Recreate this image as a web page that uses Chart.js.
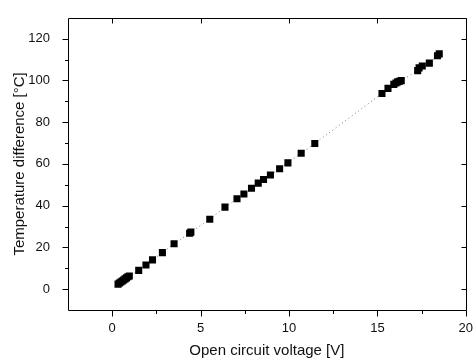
<!DOCTYPE html>
<html>
<head>
<meta charset="utf-8">
<script src="https://cdn.jsdelivr.net/npm/chart.js@4/dist/chart.umd.min.js"></script>
<style>
  html, body { margin: 0; padding: 0; background: #fff; }
  #chart { display: block; }
</style>
</head>
<body>
<canvas id="chart" width="476" height="361"></canvas>
<script>
'use strict';

/* ─── 데이터 ─── */
var voltages = [0.33, 0.41, 0.49, 0.57, 0.65, 0.73, 0.81, 0.89, 0.97,
  1.50, 1.91, 2.28, 2.84, 3.50, 4.38, 4.45, 5.52, 6.38, 7.06, 7.45,
  7.88, 8.26, 8.56, 8.95, 9.47, 9.94, 10.69, 11.46, 15.26, 15.60,
  15.93, 16.05, 16.15, 16.25, 16.35, 17.28, 17.36, 17.54, 17.94, 18.40, 18.50];
var tempDiffs = [2.4, 2.9, 3.4, 3.9, 4.4, 4.9, 5.4, 5.9, 6.3,
  9.0, 11.6, 14.0, 17.5, 21.7, 26.8, 27.3, 33.5, 39.3, 43.3, 45.6,
  48.3, 50.8, 52.5, 54.7, 57.7, 60.5, 65.1, 69.8, 93.7, 96.2,
  98.1, 98.8, 99.3, 99.6, 99.9, 104.7, 106.0, 106.9, 108.3, 111.8, 112.7];

var xMajorTicks = [0, 5, 10, 15, 20];
var xMinorTicks = [2.5, 7.5, 12.5, 17.5];
var yMajorTicks = [0, 20, 40, 60, 80, 100, 120];
var yMinorTicks = [10, 30, 50, 70, 90, 110];

var xTitle = 'Open circuit voltage [V]';
var yTitle = 'Temperature difference [°C]';

var points = [];
for (var i = 0; i < voltages.length; i++) {
  points.push({ x: voltages[i], y: tempDiffs[i] });
}

/* ─── 프레임 + 눈금 (좌/하: 바깥, 상/우: 안쪽) ─── */
var frameTicks = {
  id: 'frameTicks',
  afterDraw: function (chart) {
    var ctx = chart.ctx;
    var a = chart.chartArea;
    var xs = chart.scales.x, ys = chart.scales.y;
    var L = Math.round(a.left) + 0.5, R = Math.round(a.right) + 0.5;
    var T = Math.round(a.top) + 0.5, B = Math.round(a.bottom) + 0.5;
    ctx.save();
    ctx.strokeStyle = '#000';
    ctx.lineWidth = 1;
    ctx.beginPath();
    ctx.rect(L, T, R - L, B - T);
    var k, p;
    for (k = 0; k < xMajorTicks.length; k++) {
      p = Math.round(xs.getPixelForValue(xMajorTicks[k])) + 0.5;
      ctx.moveTo(p, B); ctx.lineTo(p, B + 6);
      ctx.moveTo(p, T); ctx.lineTo(p, T + 5);
    }
    for (k = 0; k < xMinorTicks.length; k++) {
      p = Math.round(xs.getPixelForValue(xMinorTicks[k])) + 0.5;
      ctx.moveTo(p, B); ctx.lineTo(p, B + 3.5);
    }
    for (k = 0; k < yMajorTicks.length; k++) {
      p = Math.round(ys.getPixelForValue(yMajorTicks[k])) + 0.5;
      ctx.moveTo(L - 6, p); ctx.lineTo(L, p);
      ctx.moveTo(R - 5, p); ctx.lineTo(R, p);
    }
    for (k = 0; k < yMinorTicks.length; k++) {
      p = Math.round(ys.getPixelForValue(yMinorTicks[k])) + 0.5;
      ctx.moveTo(L - 3.5, p); ctx.lineTo(L, p);
    }
    ctx.stroke();
    ctx.restore();
  }
};

var tickFont = { family: '"Liberation Sans", Arial, sans-serif', size: 13 };
var titleFont = { family: '"Liberation Sans", Arial, sans-serif', size: 15 };

new Chart(document.getElementById('chart'), {
  type: 'scatter',
  data: {
    datasets: [{
      data: points,
      showLine: true,
      borderColor: '#777',
      borderWidth: 1,
      borderDash: [1, 3],
      pointStyle: 'rect',
      pointRadius: 5,
      pointBorderWidth: 0,
      pointBackgroundColor: '#000'
    }]
  },
  options: {
    responsive: false,
    animation: false,
    layout: { padding: { top: 13, right: 9, left: 0, bottom: 0 } },
    plugins: { legend: { display: false }, tooltip: { enabled: false } },
    scales: {
      x: {
        type: 'linear',
        min: -2.5,
        max: 20,
        grid: { display: false },
        border: { display: false },
        afterBuildTicks: function (s) { s.ticks = xMajorTicks.map(function (v) { return { value: v }; }); },
        afterFit: function (s) { s.height = 51; },
        ticks: { color: '#111', font: tickFont, padding: 3, maxRotation: 0 },
        title: { display: true, text: xTitle, color: '#111', font: titleFont, padding: { top: 0, bottom: 1 } }
      },
      y: {
        type: 'linear',
        min: -10,
        max: 130,
        grid: { display: false },
        border: { display: false },
        afterBuildTicks: function (s) { s.ticks = yMajorTicks.map(function (v) { return { value: v }; }); },
        afterFit: function (s) { s.width = 68; },
        ticks: { color: '#111', font: tickFont, padding: 10 },
        title: { display: true, text: yTitle, color: '#111', font: titleFont, padding: { top: 11, bottom: 0 } }
      }
    }
  },
  plugins: [frameTicks]
});
</script>
</body>
</html>
